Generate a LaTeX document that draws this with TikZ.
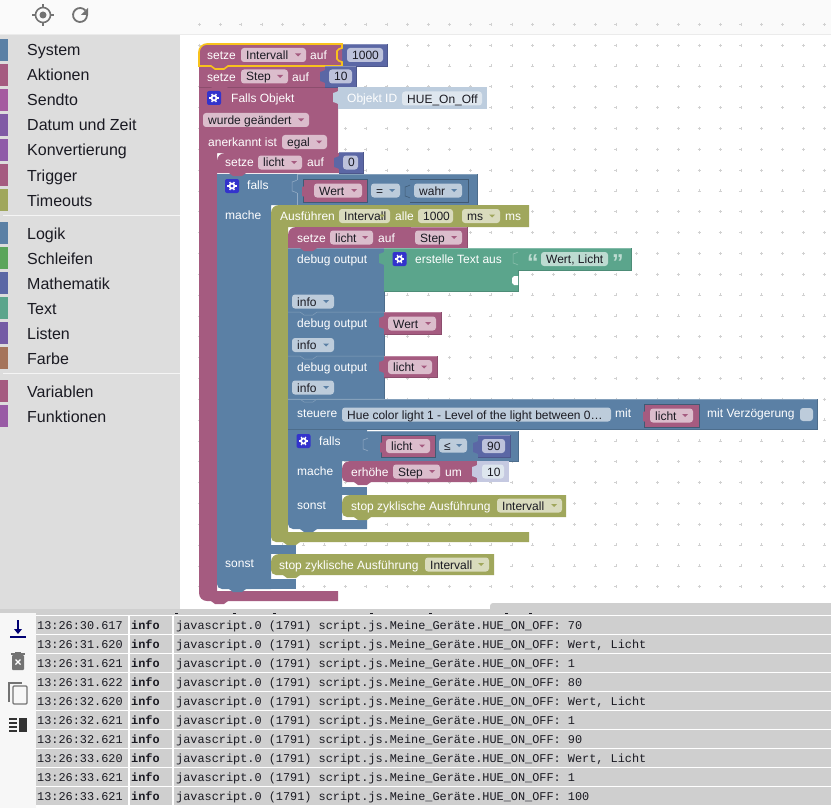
\documentclass[tikz,border=0pt]{standalone}
\usepackage{fontspec}
\setmainfont{Liberation Sans}
\setmonofont{Liberation Mono}
\definecolor{var}{HTML}{A55B80}
\definecolor{varf}{HTML}{DBBDCC}
\definecolor{mth}{HTML}{5B67A5}
\definecolor{mthf}{HTML}{BDC2DB}
\definecolor{lgc}{HTML}{5B80A5}
\definecolor{lgcf}{HTML}{BDCCDB}
\definecolor{txt}{HTML}{5BA58C}
\definecolor{txtf}{HTML}{BDDBD1}
\definecolor{olv}{HTML}{A0A75C}
\definecolor{olvf}{HTML}{D9DBBD}
\definecolor{shd}{HTML}{BDCDDE}
\definecolor{shdf}{HTML}{DEE6EE}
\definecolor{shm}{HTML}{C5C9E1}
\definecolor{yel}{HTML}{F8C21C}
\definecolor{gearb}{HTML}{3333CC}
\definecolor{side}{HTML}{DDDDDD}
\definecolor{rowg}{HTML}{CFCFCF}
\definecolor{inkd}{HTML}{1A1A22}
\tikzset{
	wt/.style={anchor=base west, inner sep=0pt, yshift=-.5pt, text=white, font=\fontsize{12}{14}\selectfont},
	dk/.style={wt, text=inkd},
	cat/.style={anchor=base west, inner sep=0pt, yshift=-.5pt, text=inkd, font=\fontsize{16}{18}\selectfont},
	logt/.style={anchor=base west, inner sep=0pt, text=inkd, font=\ttfamily\fontsize{11.87}{14}\selectfont}
}
\newcommand{\blk}[5]{\fill[#1] (#2,#3) rectangle (#4,#5);
	\draw[#1!75!white, line width=.5pt] (#2,#3) -- (#4,#3);
	\draw[#1!85!black, line width=.5pt] (#2,#5) -- (#4,#5) -- (#4,#3);}
\newcommand{\notch}[3]{\fill[#3] (#1+12,#2) -- (#1+16,#2+3) -- (#1+25,#2+3) -- (#1+29,#2) -- cycle;}
\newcommand{\sepl}[3]{\draw[#3!75!white, line width=.5pt] (#1,#2) -- (#1+12,#2) -- (#1+16,#2+3) -- (#1+25,#2+3) -- (#1+29,#2) -- (#1+96,#2);}
\newcommand{\vtab}[3]{\fill[#1] (#2,#3+4) -- (#2-2,#3+5) -- (#2-5,#3+6) -- (#2-5,#3+15) -- (#2-2,#3+16) -- (#2,#3+17) -- cycle;}
\newcommand{\otab}[3]{\draw[#1, line width=.5pt] (#2,#3+4) -- (#2-2,#3+5) -- (#2-5,#3+6) -- (#2-5,#3+15) -- (#2-2,#3+16) -- (#2,#3+17);}
\newcommand{\fld}[6]{\fill[#2, rounded corners=3pt] (#3,#5-7) rectangle (#4,#5+7);
	\node[dk] (#1) at (#3+5,#5+4) {#6};}
\newcommand{\dfld}[6]{\fld{#1}{#2f}{#3}{#4}{#5}{#6}
	\fill[#2] (#4-11,#5-1.5) -- (#4-5,#5-1.5) -- (#4-8,#5+1.5) -- cycle;}
\newcommand{\gearic}[2]{\fill[gearb, rounded corners=2pt] (#1-7,#2-7) rectangle (#1+7,#2+7);
	\fill[white] (#1,#2) circle (3.4);
	\foreach \a in {0,60,...,300} {\draw[white, line width=1.3pt] (#1,#2) -- ++(\a:4.6);}
	\fill[gearb] (#1,#2) circle (1.6);}
\begin{document}
\begin{tikzpicture}[x=1pt, y=-1pt]
	\useasboundingbox (0,0) rectangle (831,808);
	\fill[white] (0,0) rectangle (831,808);

	\fill[black!2] (0,0) rectangle (831,34);
	\draw[black!8] (0,34.5) -- (831,34.5);
	\draw[black!55, line width=1.6pt] (43,15) circle (7.5);
	\fill[black!55] (43,15) circle (3.5);
	\foreach \a in {0,90,180,270} {\draw[black!55, line width=1.6pt] (43,15) ++(\a:7) -- ++(\a:4);}
	\draw[black!55, line width=1.8pt] (85.4,10.5) arc (-40:-360:7);
	\fill[black!55] (88,8) -- (88,15) -- (81,15) -- cycle;

	\fill[side] (0,35) rectangle (180,609);
	\foreach \i/\nm/\yy/\col in {1/System/50/5B80A5, 2/Aktionen/75/A55B80, 3/Sendto/100/A55BA0, 4/Datum und Zeit/125/805BA5, 5/Konvertierung/150/8F5BA8, 6/Trigger/175/A55B80, 7/Timeouts/200/A0A75C, 8/Logik/233/5B80A5, 9/Schleifen/258/5BA55B, 10/Mathematik/283/5B67A5, 11/Text/308/5BA58C, 12/Listen/333/745BA5, 13/Farbe/358/A5745B, 14/Variablen/391/A55B80, 15/Funktionen/416/995BA5} {
		\definecolor{tabc}{HTML}{\col}
		\fill[tabc] (0,\yy-11) rectangle (8,\yy+11);
		\node[cat] (cat\i) at (27,\yy+5.5) {\nm};
	}
	\draw[black!4, line width=1pt] (3,215.5) -- (180,215.5);
	\draw[black!4, line width=1pt] (3,373.5) -- (180,373.5);

	\foreach \i in {0,...,30} {
		\foreach \j in {0,...,27} {
			\draw[black!18, line width=.5pt] (199.3+20.83*\i-1.5,24.2+20.83*\j) -- ++(3,0) (199.3+20.83*\i,24.2+20.83*\j-1.5) -- ++(0,3);
		}
	}

	\fill[var] (199,87) -- (338,87) -- (338,153) -- (217,153) -- (217,591) -- (338,591) -- (338,601) -- (207,601) to[out=180,in=-90] (199,593) -- cycle;
	\notch{199}{601}{var}
	\blk{var}{199}{66}{325}{87}
	\notch{199}{87}{var}
	\blk{mth}{342}{44}{387}{66}
	\vtab{mth}{342}{44}
	\fld{vA}{mthf}{347}{383}{55}{1000}
	\fill[var] (207,44) -- (342,44) -- (342,66) -- (199,66) -- (199,52) to[out=90,in=180] cycle;
	\notch{199}{66}{var}
	\draw[yel, line width=1.6pt] (207,44) -- (342,44) -- (342,48) -- (339,49) -- (337,51) -- (337,59) -- (339,61) -- (342,62) -- (342,66) -- (228,66) -- (224,69) -- (215,69) -- (211,66) -- (199,66) -- (199,52) to[out=90,in=180] (207,44);
	\node[wt] (l1) at (207,59) {setze};
	\dfld{f1}{var}{241}{306}{55}{Intervall}
	\node[wt] (l2) at (310,59) {auf};

	\node[wt] (l3) at (207,81) {setze};
	\dfld{f2}{var}{241}{288}{76.5}{Step}
	\node[wt] (l4) at (292,81) {auf};
	\blk{mth}{325}{66}{356}{87}
	\vtab{mth}{325}{66}
	\fld{vB}{mthf}{329}{352}{76.5}{10}

	\gearic{214}{98}
	\node[wt] (l5) at (231,102) {Falls Objekt};
	\fill[shd] (338,87) rectangle (487,109);
	\vtab{shd}{338}{87}
	\node[wt] (l6) at (347,102) {Objekt ID};
	\fld{vC}{shdf}{402}{482}{98.5}{HUE\_On\_Off}
	\dfld{f3}{var}{203}{309}{120}{wurde geändert}
	\node[wt] (l7) at (208,146) {anerkannt ist};
	\dfld{f4}{var}{282}{327}{142}{egal}

	\fill[lgc] (217,174) -- (297,174) -- (297,205) -- (271,205) -- (271,589) -- (222,589) to[out=180,in=-90] (217,584) -- cycle;
	\fill[lgc] (271,545) rectangle (296,554);
	\fill[lgc] (271,579) rectangle (296,589);
	\notch{217}{589}{lgc}
	\fill[var] (225,153) -- (339,153) -- (339,173) -- (217,173) -- (217,161) to[out=90,in=180] cycle;
	\notch{217}{173}{var}
	\node[wt] (l8) at (225,166.5) {setze};
	\dfld{f5}{var}{258}{302}{162.5}{licht}
	\node[wt] (l9) at (307,166.5) {auf};
	\blk{mth}{339}{152}{363}{173}
	\vtab{mth}{339}{152}
	\fld{vD}{mthf}{343}{358}{162.5}{0}

	\gearic{232}{186}
	\node[wt] (l10) at (247,189) {falls};
	\blk{lgc}{297}{174}{477}{205}
	\otab{lgc!65!white}{297}{176}
	\draw[lgc!65!white, line width=.5pt] (297,174) -- (297,180) (297,193) -- (297,205);
	\fill[var] (303,179) rectangle (367,202);
	\draw[lgc!70!black, line width=.5pt] (303,179) rectangle (367,202);
	\vtab{var}{307}{181}
	\dfld{f6}{var}{314}{362}{190.5}{Wert}
	\dfld{f7}{lgc}{371}{400}{190.5}{=}
	\draw[lgc!70!black, line width=.5pt] (410,179) -- (468,179) -- (468,202) -- (410,202);
	\otab{lgc!70!black}{410}{181}
	\dfld{f8}{lgc}{414}{462}{190.5}{wahr}
	\node[wt] (l11) at (225,219) {mache};

	\fill[olv] (279,205) -- (529,205) -- (529,227) -- (288,227) -- (288,532) -- (529,532) -- (529,542) -- (276,542) to[out=180,in=-90] (271,537) -- (271,213) to[out=90,in=180] cycle;
	\notch{271}{542}{olv}
	\node[wt] (l12) at (280,220) {Ausführen};
	\dfld{f9}{olv}{339}{390}{216}{Intervall}
	\node[wt] (l13) at (395,220) {alle};
	\fld{vE}{olvf}{418}{453}{216}{1000}
	\dfld{f10}{olv}{462}{500}{216}{ms}
	\node[wt] (l14) at (505,220) {ms};

	\blk{lgc}{288}{248}{384}{399}
	\fill[var] (296,227) -- (411,227) -- (411,248) -- (288,248) -- (288,235) to[out=90,in=180] cycle;
	\notch{288}{248}{var}
	\node[wt] (l15) at (297,242) {setze};
	\dfld{f11}{var}{330}{373}{237.5}{licht}
	\node[wt] (l16) at (378,242) {auf};
	\blk{var}{411}{227}{467}{248}
	\vtab{var}{411}{227}
	\dfld{f12}{var}{415}{462}{237.5}{Step}

	\node[wt] (l17) at (297,263) {debug output};
	\blk{txt}{384}{248}{518}{291}
	\fill[white] (518,276) -- (514,276) -- (512,278) -- (512,283) -- (514,285) -- (518,285) -- cycle;
	\vtab{txt}{384}{248}
	\gearic{399.5}{259}
	\node[wt] (l18) at (415,263) {erstelle Text aus};
	\blk{txt}{518}{248}{631}{270}
	\otab{txt!70!white}{518}{248}
	\node[wt, font=\fontsize{23}{23}\selectfont\bfseries, text=txtf] (q1) at (527,270) {“};
	\fld{vF}{txtf}{541}{608}{259}{Wert, Licht}
	\node[wt, font=\fontsize{23}{23}\selectfont\bfseries, text=txtf] (q2) at (612,270) {”};
	\dfld{f13}{lgc}{292}{334}{301.5}{info}

	\sepl{288}{312}{lgc}
	\node[wt] (l19) at (297,327) {debug output};
	\blk{var}{384}{312}{441}{334}
	\vtab{var}{384}{312}
	\dfld{f14}{var}{388}{436}{323.5}{Wert}
	\dfld{f15}{lgc}{292}{334}{345}{info}

	\sepl{288}{356}{lgc}
	\node[wt] (l20) at (297,371) {debug output};
	\blk{var}{384}{356}{437}{377}
	\vtab{var}{384}{356}
	\dfld{f16}{var}{388}{432}{367}{licht}
	\dfld{f17}{lgc}{292}{334}{387.5}{info}

	\fill[lgc] (288,429) -- (367,429) -- (367,461) -- (342,461) -- (342,520) -- (367,520) -- (367,529) -- (293,529) to[out=180,in=-90] (288,524) -- cycle;
	\fill[lgc] (342,487) rectangle (367,495);
	\notch{288}{529}{lgc}
	\blk{lgc}{288}{399}{817}{429}
	\sepl{288}{399}{lgc}
	\node[wt] (l21) at (297,417) {steuere};
	\fld{vG}{lgcf}{342}{611}{414.5}{Hue color light 1 - Level of the light between 0…}
	\node[wt] (l22) at (615,417) {mit};
	\fill[var] (644,404) rectangle (699,427);
	\draw[lgc!70!black, line width=.5pt] (644,404) rectangle (699,427);
	\vtab{var}{648}{406}
	\dfld{f18}{var}{650}{693}{415.5}{licht}
	\node[wt] (l23) at (707,417) {mit Verzögerung};
	\fill[lgcf, rounded corners=3pt] (800,408) rectangle (813,421);

	\gearic{303.5}{441}
	\node[wt] (l24) at (319,445) {falls};
	\blk{lgc}{367}{431}{518}{461}
	\otab{lgc!65!white}{368}{434}
	\fill[var] (381,435) rectangle (435,457);
	\draw[lgc!70!black, line width=.5pt] (381,435) rectangle (435,457);
	\vtab{var}{385}{437}
	\dfld{f19}{var}{386}{430}{446}{licht}
	\dfld{f20}{lgc}{439}{467}{445.5}{≤}
	\blk{mth}{478}{435}{510}{457}
	\vtab{mth}{478}{437}
	\fld{vH}{mthf}{482}{505}{446}{90}
	\node[wt] (l25) at (297,475) {mache};

	\fill[var] (350,461) -- (477,461) -- (477,482) -- (347,482) to[out=180,in=-90] (342,477) -- (342,469) to[out=90,in=180] cycle;
	\notch{342}{482}{var}
	\node[wt] (l26) at (351,475.5) {erhöhe};
	\dfld{f21}{var}{393}{440}{471.5}{Step}
	\node[wt] (l27) at (445,475.5) {um};
	\fill[shm] (477,461) rectangle (509,482);
	\vtab{shm}{477}{461}
	\fld{vI}{shdf}{482}{504}{471.5}{10}
	\node[wt] (l28) at (297,509) {sonst};

	\fill[olv] (350,495) -- (566,495) -- (566,517) -- (347,517) to[out=180,in=-90] (342,512) -- (342,503) to[out=90,in=180] cycle;
	\notch{342}{517}{olv}
	\node[wt] (l29) at (351,510) {stop zyklische Ausführung};
	\dfld{f22}{olv}{497}{562}{505.5}{Intervall}

	\node[wt] (l30) at (225,567) {sonst};
	\fill[olv] (279,554) -- (494,554) -- (494,575) -- (276,575) to[out=180,in=-90] (271,570) -- (271,562) to[out=90,in=180] cycle;
	\notch{271}{575}{olv}
	\node[wt] (l31) at (279,569) {stop zyklische Ausführung};
	\dfld{f23}{olv}{425}{489}{564.5}{Intervall}

	\fill[rowg, rounded corners=3pt] (490,603) rectangle (840,612);
	\fill[rowg] (0,609) rectangle (831,615);
	\foreach \xx in {175,233,273,370,429,505,529} {\draw[inkd, line width=.8pt] (\xx,613.5) -- (\xx+3,613.5);}

	\fill[black!3] (0,613) rectangle (36,808);
	\draw[blue!45!black, line width=1.5pt] (18,620) -- (18,631);
	\fill[blue!45!black] (14,629) -- (22,629) -- (18,634) -- cycle;
	\draw[blue!45!black, line width=1.2pt] (10,637) -- (26,637);
	\fill[black!55, rounded corners=1pt] (12,655) rectangle (24,670);
	\fill[black!55] (11,653) rectangle (25,655);
	\fill[black!55] (15,652) rectangle (21,653);
	\draw[white, line width=1.1pt] (15.5,659.5) -- (20.5,664.5) (20.5,659.5) -- (15.5,664.5);
	\draw[black!55, line width=1.1pt] (9,702) -- (9,683) -- (22,683);
	\draw[black!55, line width=1.1pt, rounded corners=1pt] (13,686) rectangle (27,704);
	\foreach \yy in {719,723,727,731} {\draw[black!80, line width=1.2pt] (9,\yy) -- (17,\yy);}
	\fill[black!80] (19,718) rectangle (27,732);

	\foreach \i/\ts/\msg in {1/13:26:30.617/70, 2/13:26:31.620/{Wert, Licht}, 3/13:26:31.621/1, 4/13:26:31.622/80, 5/13:26:32.620/{Wert, Licht}, 6/13:26:32.621/1, 7/13:26:32.621/90, 8/13:26:33.620/{Wert, Licht}, 9/13:26:33.621/1, 10/13:26:33.621/100} {
		\fill[rowg] (36,597+19*\i) rectangle (128,615+19*\i);
		\fill[rowg] (130,597+19*\i) rectangle (172,615+19*\i);
		\fill[rowg] (174,597+19*\i) rectangle (831,615+19*\i);
		\node[logt] (ts\i) at (37,610+19*\i) {\ts};
		\node[logt, font=\ttfamily\bfseries\fontsize{11.87}{14}\selectfont] (lv\i) at (131,610+19*\i) {info};
		\node[logt] (ms\i) at (176,610+19*\i) {javascript.0 (1791) script.js.Meine\_Geräte.HUE\_ON\_OFF: \msg};
	}
\end{tikzpicture}
\end{document}
